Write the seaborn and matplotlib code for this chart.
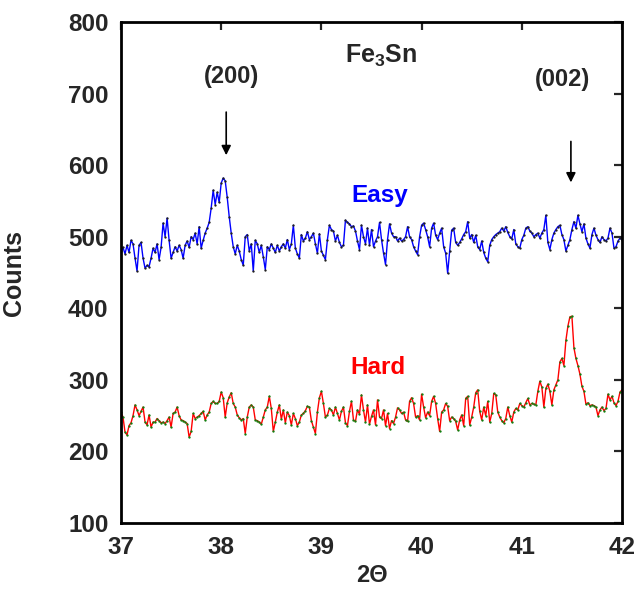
import numpy as np
import pandas as pd
import matplotlib
matplotlib.use("Agg")
import matplotlib.pyplot as plt
import seaborn as sns

# ---- data ----
two_theta_start = 37.0
two_theta_step = 0.02

easy_counts = [
    480, 485, 476, 488, 478, 495, 490, 470, 452, 488,
    492, 470, 456, 460, 458, 470, 484, 478, 490, 468,
    485, 519, 500, 526, 495, 470, 478, 486, 480, 488,
    482, 470, 488, 494, 485, 500, 496, 505, 490, 514,
    484, 495, 505, 512, 520, 540, 565, 545, 562, 548,
    575, 582, 578, 555, 528, 505, 486, 476, 488, 480,
    468, 460, 500, 503, 480, 490, 452, 495, 490, 478,
    488, 472, 454, 486, 482, 490, 484, 478, 488, 480,
    486, 490, 484, 496, 482, 490, 516, 484, 476, 470,
    503, 494, 498, 507, 496, 500, 505, 490, 477, 504,
    480, 474, 468, 496, 516, 510, 508, 494, 502, 492,
    486, 488, 523, 520, 518, 514, 515, 508, 494, 482,
    516, 500, 490, 512, 488, 510, 486, 494, 500, 520,
    496, 477, 461, 496, 518, 505, 500, 500, 494, 498,
    494, 496, 500, 514, 500, 496, 486, 480, 475, 500,
    516, 519, 510, 500, 486, 512, 519, 502, 496, 505,
    512, 486, 477, 449, 480, 509, 512, 492, 488, 492,
    497, 503, 507, 521, 498, 503, 492, 502, 486, 482,
    494, 478, 470, 465, 488, 496, 500, 503, 505, 507,
    512, 508, 514, 506, 500, 497, 510, 490, 486, 484,
    496, 502, 512, 514, 508, 505, 500, 503, 505, 498,
    505, 510, 530, 492, 482, 496, 505, 510, 514, 516,
    503, 496, 480, 488, 496, 510, 521, 512, 530, 518,
    507, 518, 498, 490, 484, 503, 512, 502, 496, 492,
    500, 496, 494, 498, 512, 505, 484, 486, 494, 498,
    496,
]

hard_counts = [
    255, 248, 227, 223, 236, 240, 250, 265, 258, 250,
    256, 262, 241, 237, 251, 234, 241, 241, 246, 243,
    240, 241, 239, 243, 248, 234, 253, 255, 262, 250,
    244, 243, 241, 239, 220, 228, 253, 246, 248, 250,
    253, 256, 244, 251, 255, 267, 270, 267, 267, 270,
    283, 275, 248, 268, 276, 282, 267, 262, 251, 247,
    244, 246, 225, 248, 262, 265, 262, 244, 243, 241,
    238, 248, 258, 262, 277, 260, 228, 241, 255, 265,
    245, 258, 240, 255, 250, 237, 253, 246, 236, 241,
    251, 253, 257, 263, 262, 243, 234, 225, 255, 275,
    284, 267, 248, 251, 260, 258, 251, 262, 253, 244,
    256, 262, 240, 236, 256, 270, 244, 242, 258, 252,
    279, 258, 241, 265, 238, 249, 258, 237, 272, 248,
    246, 258, 236, 253, 232, 243, 239, 248, 261, 258,
    253, 255, 244, 242, 270, 275, 267, 248, 250, 244,
    280, 262, 247, 255, 250, 270, 277, 267, 246, 228,
    255, 258, 267, 263, 243, 248, 246, 242, 230, 244,
    251, 236, 274, 277, 237, 248, 262, 282, 286, 256,
    244, 262, 250, 270, 241, 253, 281, 279, 255, 248,
    243, 240, 246, 262, 250, 241, 255, 260, 258, 267,
    264, 262, 268, 274, 265, 267, 266, 265, 284, 298,
    290, 262, 288, 294, 284, 265, 286, 293, 300, 325,
    330, 320, 355, 375, 388, 389, 345, 330, 320, 308,
    291, 284, 266, 268, 264, 265, 264, 262, 250, 258,
    262, 257, 260, 280, 272, 277, 268, 264, 270, 283,
    286,
]

series_names = ["Easy", "Hard"]
x_ticks = [37, 38, 39, 40, 41, 42]
y_ticks = [100, 200, 300, 400, 500, 600, 700, 800]
peak_labels = ["(200)", "(002)"]
peak_positions = [38.05, 41.49]

two_theta = two_theta_start + two_theta_step * np.arange(len(easy_counts))
df = pd.DataFrame({
    "two_theta": np.concatenate([two_theta, two_theta]),
    "counts": easy_counts + hard_counts,
    "sample": [series_names[0]] * len(easy_counts) + [series_names[1]] * len(hard_counts),
})

# ---- style ----
sns.set_style("white")
plt.rcParams["font.family"] = ["Liberation Sans", "DejaVu Sans"]
plt.rcParams["font.weight"] = "bold"
plt.rcParams["mathtext.fontset"] = "custom"
plt.rcParams["mathtext.rm"] = "Liberation Sans:bold"
plt.rcParams["mathtext.bf"] = "Liberation Sans:bold"
plt.rcParams["mathtext.default"] = "bf"

fig = plt.figure(figsize=(6.44, 6.0), dpi=100)
ax = fig.add_axes([121 / 644, 1 - 523 / 600, (622 - 121) / 644, (523 - 22) / 600])

easy_df = df[df["sample"] == "Easy"]
hard_df = df[df["sample"] == "Hard"]
sns.lineplot(data=easy_df, x="two_theta", y="counts", ax=ax, color="#0000ff",
             linewidth=1.0, marker="o", markersize=0.9, markerfacecolor="#202020",
             markeredgecolor="#202020", estimator=None, sort=False)
sns.lineplot(data=hard_df, x="two_theta", y="counts", ax=ax, color="#ff0000",
             linewidth=1.0, marker="o", markersize=0.9, markerfacecolor="#108010",
             markeredgecolor="#108010", estimator=None, sort=False)

ax.set_xlim(37, 42)
ax.set_ylim(100, 800)
ax.set_xticks(x_ticks)
ax.set_yticks(y_ticks)
ax.set_xticklabels([str(t) for t in x_ticks])
ax.set_yticklabels([str(t) for t in y_ticks])
ax.tick_params(direction="in", length=6, width=1.6, top=True, right=True,
               labelsize=17.5, pad=9)
for lab in ax.get_xticklabels() + ax.get_yticklabels():
    lab.set_fontweight("bold")
for sp in ax.spines.values():
    sp.set_linewidth(2.0)
    sp.set_color("black")

ax.set_xlabel("2\u0398", fontsize=17, fontweight="bold", labelpad=4)
ax.set_ylabel("Counts", fontsize=18, fontweight="bold", labelpad=30)

# ---- annotations ----
ax.text(39.6, 752, r"Fe$_3$Sn", fontsize=18, fontweight="bold", ha="center", va="center")
ax.text(39.58, 557, "Easy", fontsize=17.5, fontweight="bold", color="#0000ff", ha="center", va="center")
ax.text(39.56, 317, "Hard", fontsize=17.5, fontweight="bold", color="#ff0000", ha="center", va="center")
ax.text(38.10, 724, peak_labels[0], fontsize=17, fontweight="bold", ha="center", va="center")
ax.text(41.41, 720, peak_labels[1], fontsize=17, fontweight="bold", ha="center", va="center")

ax.annotate("", xy=(peak_positions[0], 610), xytext=(peak_positions[0], 678),
            arrowprops=dict(arrowstyle="-|>", color="black", lw=1.2, mutation_scale=14))
ax.annotate("", xy=(peak_positions[1], 572), xytext=(peak_positions[1], 637),
            arrowprops=dict(arrowstyle="-|>", color="black", lw=1.2, mutation_scale=14))

fig.savefig("out.png", dpi=100)
